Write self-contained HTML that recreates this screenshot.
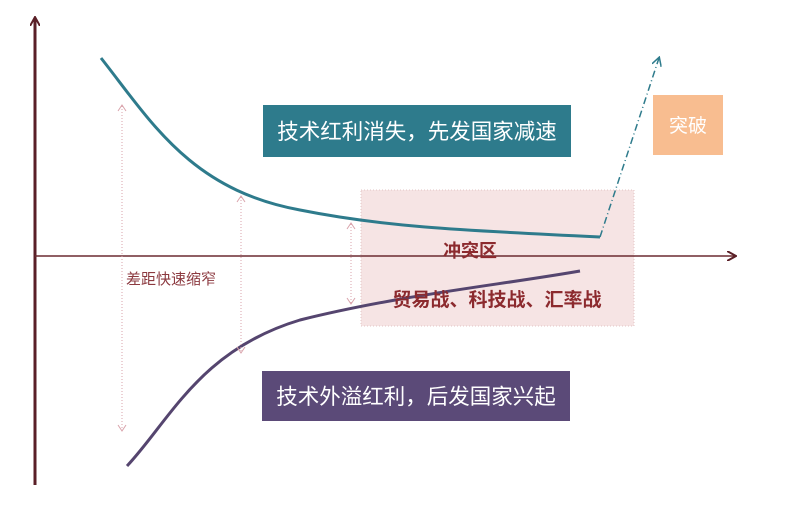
<!DOCTYPE html>
<html><head><meta charset="utf-8"><style>
body{margin:0;background:#fff;}
svg{display:block;font-family:"Liberation Sans","Noto Sans CJK SC",sans-serif;}
</style></head><body>
<svg width="789" height="509" viewBox="0 0 789 509">
<defs>
<marker id="ah" markerWidth="10" markerHeight="10" refX="8" refY="5" orient="auto" markerUnits="userSpaceOnUse"><path d="M0,0 L9,5 L0,10" fill="none" stroke="#5a1f27" stroke-width="2"/></marker>
<marker id="ta" markerWidth="10" markerHeight="10" refX="8" refY="5" orient="auto" markerUnits="userSpaceOnUse"><path d="M0,0 L9,5 L0,10" fill="none" stroke="#2e7b8c" stroke-width="1.5"/></marker>
</defs>
<rect x="361" y="190" width="273" height="136" fill="#f6e4e4" stroke="#e3c5c5" stroke-dasharray="1,2"/>
<line x1="35" y1="485" x2="35" y2="18" stroke="#5a1f27" stroke-width="3" marker-end="url(#ah)"/>
<line x1="35" y1="256" x2="735" y2="256" stroke="#6b2a30" stroke-width="1.5" marker-end="url(#ah)"/>
<path d="M101,58 C150,120 190,190 300,210 C380,226 450,230 600,237" fill="none" stroke="#2e7b8c" stroke-width="3"/>
<line x1="600" y1="237" x2="659" y2="58" stroke="#2e7b8c" stroke-width="1.5" stroke-dasharray="7,3,1,3" marker-end="url(#ta)"/>
<path d="M127,466 C170,420 200,350 300,320 C400,295 500,285 580,271" fill="none" stroke="#55456f" stroke-width="3"/>
<g stroke="#d9a3ab" stroke-width="1" fill="none">
<line x1="122" y1="106" x2="122" y2="430" stroke-dasharray="1,2"/>
<line x1="241" y1="197" x2="241" y2="352" stroke-dasharray="1,2"/>
<line x1="351" y1="224" x2="351" y2="303" stroke-dasharray="1,2"/>
<path d="M118,111 L122,105 L126,111 M118,425 L122,431 L126,425"/>
<path d="M237,202 L241,196 L245,202 M237,347 L241,353 L245,347"/>
<path d="M347,229 L351,223 L355,229 M347,298 L351,304 L355,298"/>
</g>
<rect x="126" y="268" width="112" height="20" fill="#fff"/>
<text x="126" y="284" font-size="15" fill="#8c3a40">差距快速缩窄</text>
<rect x="263" y="105" width="308" height="52" fill="#2e7b8c"/>
<text x="417" y="139" font-size="21.5" fill="#fff" text-anchor="middle">技术红利消失，先发国家减速</text>
<rect x="262" y="371" width="308" height="50" fill="#5b4a78"/>
<text x="416" y="404" font-size="21.5" fill="#fff" text-anchor="middle">技术外溢红利，后发国家兴起</text>
<rect x="653" y="95" width="70" height="60" fill="#f8bd90"/>
<text x="688" y="132" font-size="19" fill="#fff" text-anchor="middle">突破</text>
<text x="470" y="257" font-size="18" font-weight="bold" fill="#8c2a2e" text-anchor="middle">冲突区</text>
<text x="497" y="306" font-size="19" font-weight="bold" fill="#8c2a2e" text-anchor="middle">贸易战、科技战、汇率战</text>
</svg>
</body></html>
